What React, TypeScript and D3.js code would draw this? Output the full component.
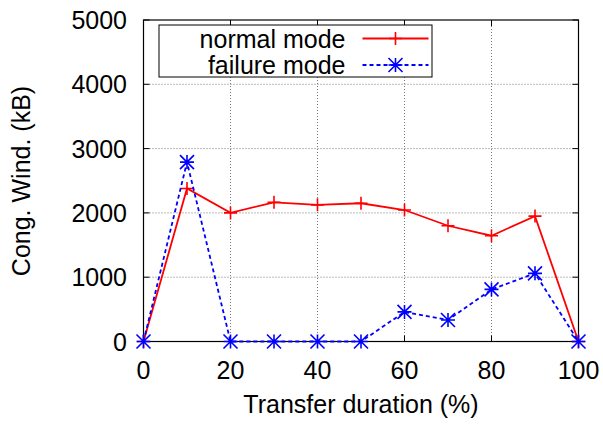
import * as d3 from 'd3';

const durations = [0, 10, 20, 30, 40, 50, 60, 70, 80, 90, 100];
const normalMode = [0, 2380, 2000, 2165, 2125, 2150, 2045, 1800, 1645, 1950, 0];
const failureMode = [0, 2790, 0, 0, 0, 0, 460, 335, 810, 1060, 0];
const xTicks = [0, 20, 40, 60, 80, 100];
const yTicks = [0, 1000, 2000, 3000, 4000, 5000];
const seriesNames = ['normal mode', 'failure mode'];

const width = 603;
const height = 424;
const margin = { top: 20, right: 24.5, bottom: 82.5, left: 143.5 };
const font = '"Liberation Sans", Arial, sans-serif';
const fontSize = 25;

function PlusMark({ cx, cy, color }: { cx: number; cy: number; color: string }) {
  const s = 6.5;
  return (
    <path d={`M${cx - s},${cy}H${cx + s}M${cx},${cy - s}V${cy + s}`} stroke={color} strokeWidth={1.6} fill="none" />
  );
}

function StarMark({ cx, cy, color }: { cx: number; cy: number; color: string }) {
  const s = 7;
  return (
    <path
      d={`M${cx - s},${cy}H${cx + s}M${cx},${cy - s}V${cy + s}M${cx - s},${cy - s}L${cx + s},${cy + s}M${cx - s},${cy + s}L${cx + s},${cy - s}`}
      stroke={color}
      strokeWidth={1.6}
      fill="none"
    />
  );
}

export default function App() {
  const innerWidth = width - margin.left - margin.right;
  const innerHeight = height - margin.top - margin.bottom;

  const x = d3.scaleLinear().domain([0, 100]).range([0, innerWidth]);
  const y = d3.scaleLinear().domain([0, 5000]).range([innerHeight, 0]);

  const line = d3
    .line<number>()
    .x((_, i) => x(durations[i]))
    .y((d) => y(d));

  const series = [
    { name: seriesNames[0], values: normalMode, color: '#ff0000', dash: undefined, Mark: PlusMark },
    { name: seriesNames[1], values: failureMode, color: '#0000ff', dash: '4 3', Mark: StarMark },
  ];

  const tickLen = 6;

  return (
    <svg
      width={width}
      height={height}
      style={{ position: 'absolute', left: 0, top: 0, background: '#fff' }}
      fontFamily={font}
    >
      <rect width={width} height={height} fill="#fff" />
      <g transform={`translate(${margin.left},${margin.top})`}>
        {/* grid */}
        {yTicks.slice(1, -1).map((t) => (
          <line key={`gy${t}`} x1={0} x2={innerWidth} y1={y(t)} y2={y(t)} stroke="#777" strokeDasharray="1 2" />
        ))}
        {xTicks.slice(1, -1).map((t) => (
          <line key={`gx${t}`} x1={x(t)} x2={x(t)} y1={0} y2={innerHeight} stroke="#777" strokeDasharray="1 2" />
        ))}

        {/* ticks on all four sides */}
        {yTicks.map((t) => (
          <g key={`ty${t}`}>
            <line x1={0} x2={tickLen} y1={y(t)} y2={y(t)} stroke="#000" />
            <line x1={innerWidth - tickLen} x2={innerWidth} y1={y(t)} y2={y(t)} stroke="#000" />
            <text x={-16.5} y={y(t)} dy="0.36em" textAnchor="end" fontSize={fontSize} fill="#000">
              {t}
            </text>
          </g>
        ))}
        {xTicks.map((t) => (
          <g key={`tx${t}`}>
            <line x1={x(t)} x2={x(t)} y1={innerHeight} y2={innerHeight - tickLen} stroke="#000" />
            <line x1={x(t)} x2={x(t)} y1={0} y2={tickLen} stroke="#000" />
            <text x={x(t)} y={innerHeight + 37} textAnchor="middle" fontSize={fontSize} fill="#000">
              {t}
            </text>
          </g>
        ))}

        <rect x={0} y={0} width={innerWidth} height={innerHeight} fill="none" stroke="#000" strokeWidth={1.2} />

        {/* legend */}
        <rect x={15.5} y={5} width={273} height={52} fill="#fff" stroke="#000" strokeWidth={1} />
        {series.map((s, i) => {
          const ly = 18.5 + i * 26.5;
          return (
            <g key={s.name}>
              <text x={202} y={ly} dy="0.36em" textAnchor="end" fontSize={fontSize} fill="#000">
                {s.name}
              </text>
              <line x1={219} x2={285} y1={ly} y2={ly} stroke={s.color} strokeWidth={1.8} strokeDasharray={s.dash} />
              <s.Mark cx={252} cy={ly} color={s.color} />
            </g>
          );
        })}

        {/* series */}
        {series.map((s) => (
          <g key={`line-${s.name}`}>
            <path d={line(s.values) ?? ''} fill="none" stroke={s.color} strokeWidth={1.8} strokeDasharray={s.dash} />
            {s.values.map((v, i) => (
              <s.Mark key={i} cx={x(durations[i])} cy={y(v)} color={s.color} />
            ))}
          </g>
        ))}
      </g>

      <text x={361} y={413} textAnchor="middle" fontSize={fontSize} fill="#000">
        Transfer duration (%)
      </text>
      <text transform={`translate(30,181) rotate(-90)`} textAnchor="middle" fontSize={fontSize} fill="#000">
        Cong. Wind. (kB)
      </text>
    </svg>
  );
}
